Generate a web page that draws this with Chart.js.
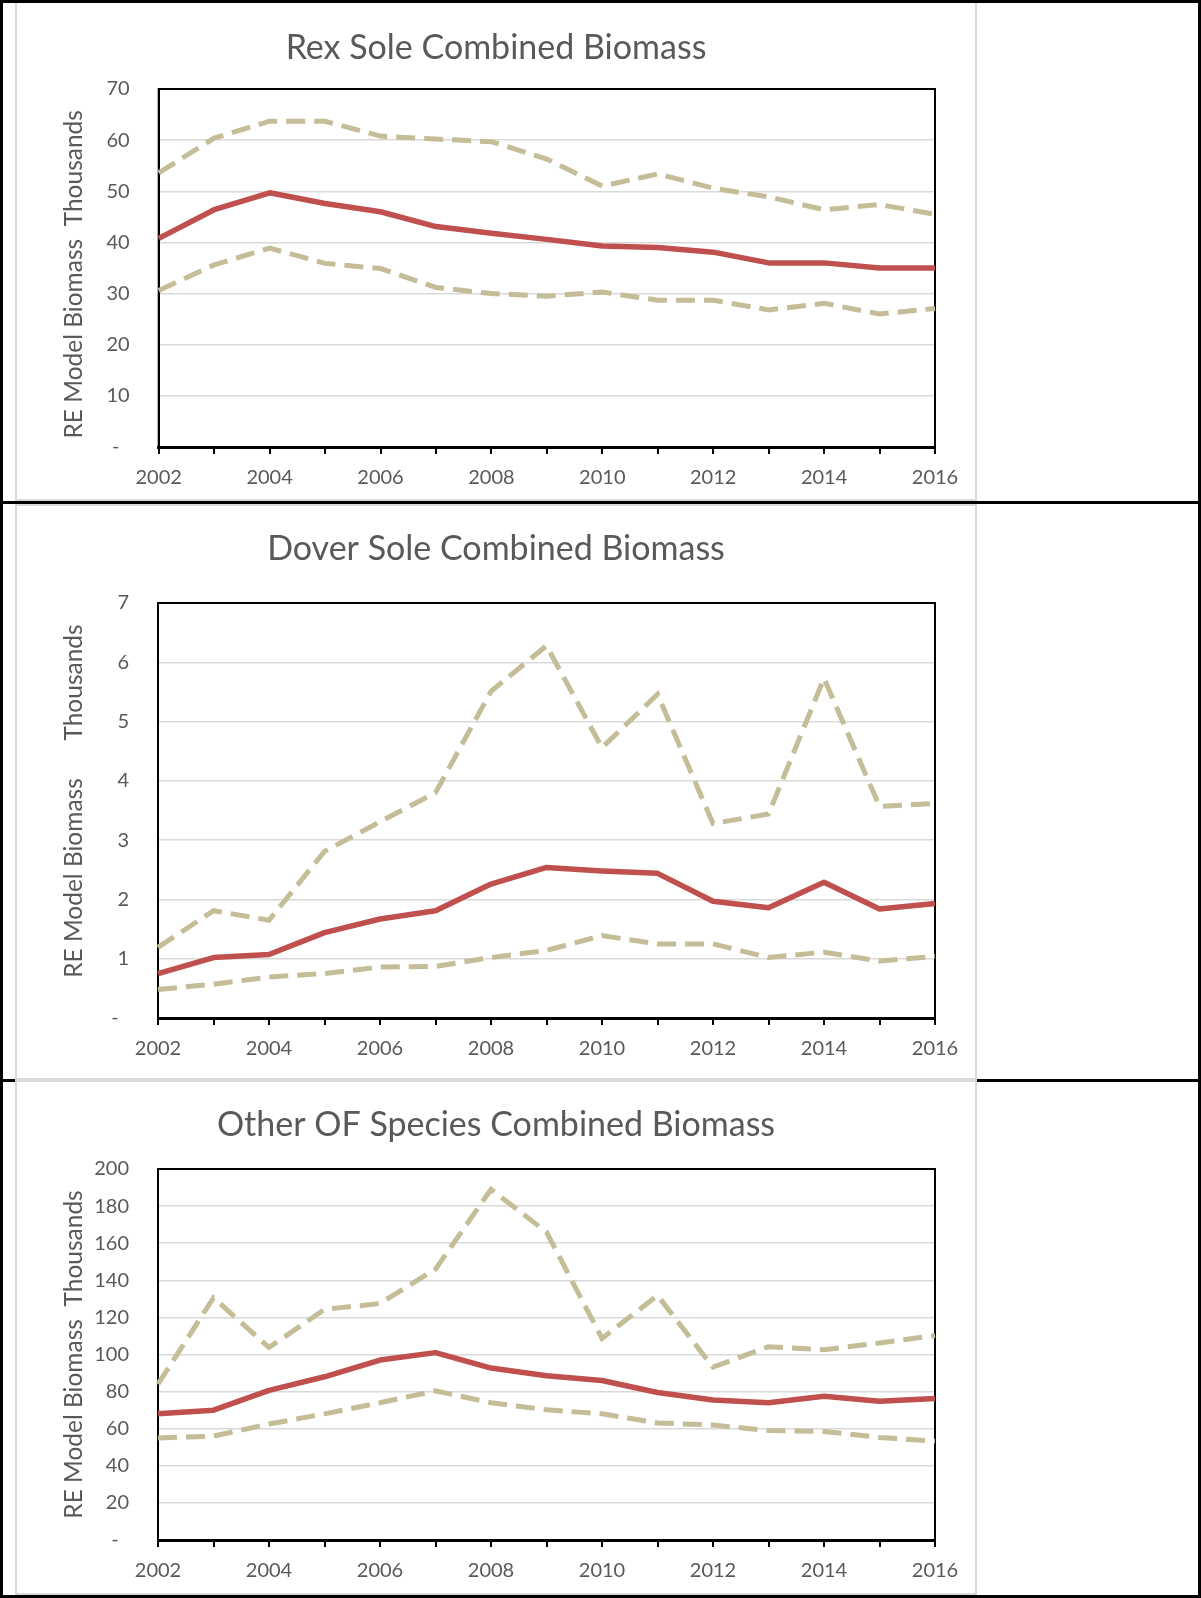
<!DOCTYPE html>
<html>
<head>
<meta charset="utf-8">
<script src="https://cdn.jsdelivr.net/npm/chart.js@4"></script>
<style>
html,body{margin:0;padding:0;background:#fff;}
#page{position:relative;width:1201px;height:1598px;overflow:hidden;background:#fff;}
.frame{position:absolute;left:0;top:0;width:1201px;height:1598px;box-sizing:border-box;border:3px solid #000;}
.hline{position:absolute;left:0;width:1201px;height:3px;background:#000;}
.box{position:absolute;left:15px;width:962px;box-sizing:border-box;border:2px solid #d9d9d9;background:#fff;}
.box canvas{position:absolute;left:0;top:0;}
</style>
</head>
<body>
<div id="page">
  <div class="frame"></div>
  <div class="hline" style="top:501px"></div>
  <div class="hline" style="top:1079px"></div>
  <div class="box" style="top:3px;height:498px;border-top:none;"><canvas id="c1" width="958" height="496"></canvas></div>
  <div class="box" style="top:504px;height:576px;"><canvas id="c2" width="958" height="572"></canvas></div>
  <div class="box" style="top:1080px;height:515px;"><canvas id="c3" width="958" height="511"></canvas></div>
</div>
<script>
// ---------- data ----------
const years = ['2002','2003','2004','2005','2006','2007','2008','2009','2010','2011','2012','2013','2014','2015','2016'];

const rexMedian = [40.8, 46.4, 49.7, 47.6, 46.0, 43.1, 41.8, 40.6, 39.3, 39.0, 38.1, 36.0, 36.0, 35.0, 35.0];
const rexUpper  = [53.6, 60.4, 63.7, 63.7, 60.8, 60.2, 59.7, 56.3, 51.0, 53.4, 50.6, 48.9, 46.4, 47.4, 45.5];
const rexLower  = [30.6, 35.6, 38.9, 35.9, 34.9, 31.2, 30.0, 29.5, 30.3, 28.7, 28.7, 26.8, 28.1, 26.0, 27.1];
const rexYTicks = [0, 10, 20, 30, 40, 50, 60, 70];

const doverMedian = [0.75, 1.02, 1.07, 1.44, 1.67, 1.81, 2.26, 2.54, 2.48, 2.44, 1.97, 1.86, 2.29, 1.84, 1.93];
const doverUpper  = [1.19, 1.81, 1.65, 2.81, 3.31, 3.80, 5.51, 6.28, 4.56, 5.46, 3.28, 3.44, 5.73, 3.57, 3.62];
const doverLower  = [0.48, 0.57, 0.69, 0.75, 0.86, 0.87, 1.02, 1.14, 1.39, 1.25, 1.25, 1.02, 1.11, 0.96, 1.04];
const doverYTicks = [0, 1, 2, 3, 4, 5, 6, 7];

const otherMedian = [68.0, 70.0, 80.7, 88.0, 97.0, 101.0, 92.7, 88.5, 86.0, 79.5, 75.5, 74.0, 77.5, 74.8, 76.3];
const otherUpper  = [84.0, 130.6, 103.8, 124.3, 127.5, 146.0, 189.0, 166.0, 108.7, 131.8, 93.2, 104.2, 102.6, 106.2, 110.2];
const otherLower  = [55.0, 56.0, 62.5, 68.0, 74.0, 80.4, 74.0, 70.2, 68.0, 63.1, 62.0, 59.0, 58.5, 55.3, 53.3];
const otherYTicks = [0, 20, 40, 60, 80, 100, 120, 140, 160, 180, 200];

// ---------- style ----------
const FONT = 'Lato';
const GRAY = '#595959';
const RED = '#C0504D';
const TAN = '#C4BD97';

Chart.defaults.font.family = FONT;

const framePlugin = {
  id: 'plotFrame',
  beforeDatasetsDraw(chart) {
    const a = chart.chartArea, ctx = chart.ctx;
    ctx.save();
    ctx.strokeStyle = '#000';
    ctx.lineWidth = 2;
    ctx.strokeRect(a.left, a.top, a.right - a.left, a.bottom - a.top);
    ctx.restore();
  }
};

function makeChart(id, o) {
  const ticks = o.yTicks;
  return new Chart(document.getElementById(id), {
    type: 'line',
    data: {
      labels: years,
      datasets: [
        { label: 'Upper', data: o.upper, borderColor: TAN, borderWidth: 5, borderDash: [19, 9], borderCapStyle: 'butt', pointRadius: 0, fill: false, tension: 0 },
        { label: 'Lower', data: o.lower, borderColor: TAN, borderWidth: 5, borderDash: [19, 9], borderCapStyle: 'butt', pointRadius: 0, fill: false, tension: 0 },
        { label: 'Estimate', data: o.median, borderColor: RED, borderWidth: 5.5, borderJoinStyle: 'round', pointRadius: 0, fill: false, tension: 0 }
      ]
    },
    options: {
      responsive: false,
      animation: false,
      devicePixelRatio: 1,
      layout: { padding: 0 },
      plugins: {
        legend: { display: false },
        tooltip: { enabled: false },
        title: {
          display: true, text: o.title, color: GRAY,
          font: { family: FONT, size: 34, weight: 'normal' },
          padding: { top: o.tTop, bottom: o.tBot }
        }
      },
      scales: {
        x: {
          type: 'category',
          offset: false,
          grid: { display: true, drawOnChartArea: false, drawTicks: true, tickLength: 7, color: '#000', lineWidth: 2 },
          border: { display: true, color: '#000', width: 3 },
          ticks: {
            autoSkip: false, maxRotation: 0, minRotation: 0, padding: 12, color: GRAY,
            font: { family: FONT, size: 20 },
            callback: (v, i) => (i % 2 === 0 ? years[i] : '')
          },
          afterFit: s => { s.height = o.bottomSpace; }
        },
        y: {
          min: ticks[0], max: ticks[ticks.length - 1],
          ticks: {
            stepSize: ticks[1] - ticks[0], padding: 29, color: GRAY,
            font: { family: FONT, size: 20 },
            callback: v => (v === 0 ? '-  ' : String(v))
          },
          grid: { color: '#D9D9D9', lineWidth: 1.5, drawTicks: false },
          border: { display: true, color: '#000', width: 2 },
          title: {
            display: true, text: o.yTitle, color: GRAY,
            font: { family: FONT, size: 24.5 },
            padding: { top: 42, bottom: 0 }
          },
          afterFit: s => { s.width = o.leftSpace; }
        },
        yRight: {
          position: 'right',
          display: true,
          grid: { display: false, drawTicks: false },
          border: { display: false },
          ticks: { display: false },
          afterFit: s => { s.width = 40; }
        }
      }
    },
    plugins: [framePlugin]
  });
}

makeChart('c1', {
  title: 'Rex Sole Combined Biomass',
  yTitle: 'RE Model Biomass  Thousands  ',
  median: rexMedian, upper: rexUpper, lower: rexLower, yTicks: rexYTicks,
  tTop: 24.6, tBot: 20.6, leftSpace: 141.7, bottomSpace: 52
});
makeChart('c2', {
  title: 'Dover Sole Combined Biomass',
  yTitle: '   RE Model Biomass      Thousands',
  median: doverMedian, upper: doverUpper, lower: doverLower, yTicks: doverYTicks,
  tTop: 22.6, tBot: 33.6, leftSpace: 141, bottomSpace: 60
});
makeChart('c3', {
  title: 'Other OF Species Combined Biomass',
  yTitle: 'RE Model Biomass  Thousands',
  median: otherMedian, upper: otherUpper, lower: otherLower, yTicks: otherYTicks,
  tTop: 22.6, tBot: 23.6, leftSpace: 141, bottomSpace: 53
});
</script>
</body>
</html>
